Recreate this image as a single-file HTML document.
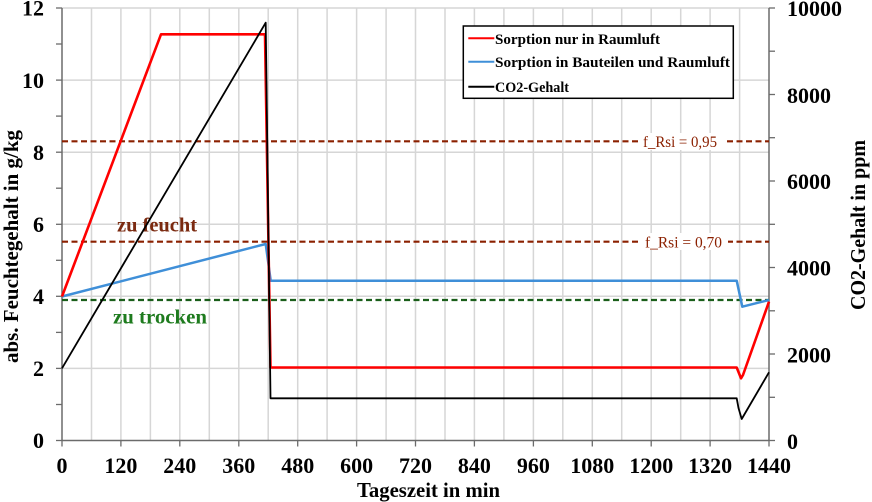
<!DOCTYPE html>
<html><head><meta charset="utf-8"><style>
html,body{margin:0;padding:0;background:#fff;}
svg{display:block;}
text{font-family:"Liberation Serif",serif;}
</style></head><body>
<svg width="872" height="502" viewBox="0 0 872 502" xmlns="http://www.w3.org/2000/svg">
<rect width="872" height="502" fill="#fff"/>
<!-- vertical gridlines every 60 min -->
<g stroke="#d6d6d6" stroke-width="1.5">
<line x1="91.5" y1="8" x2="91.5" y2="440.5"/><line x1="120.9" y1="8" x2="120.9" y2="440.5"/>
<line x1="150.4" y1="8" x2="150.4" y2="440.5"/><line x1="179.8" y1="8" x2="179.8" y2="440.5"/>
<line x1="209.3" y1="8" x2="209.3" y2="440.5"/><line x1="238.8" y1="8" x2="238.8" y2="440.5"/>
<line x1="268.2" y1="8" x2="268.2" y2="440.5"/><line x1="297.7" y1="8" x2="297.7" y2="440.5"/>
<line x1="327.1" y1="8" x2="327.1" y2="440.5"/><line x1="356.6" y1="8" x2="356.6" y2="440.5"/>
<line x1="386.1" y1="8" x2="386.1" y2="440.5"/><line x1="415.5" y1="8" x2="415.5" y2="440.5"/>
<line x1="445.0" y1="8" x2="445.0" y2="440.5"/><line x1="474.4" y1="8" x2="474.4" y2="440.5"/>
<line x1="503.9" y1="8" x2="503.9" y2="440.5"/><line x1="533.4" y1="8" x2="533.4" y2="440.5"/>
<line x1="562.8" y1="8" x2="562.8" y2="440.5"/><line x1="592.3" y1="8" x2="592.3" y2="440.5"/>
<line x1="621.7" y1="8" x2="621.7" y2="440.5"/><line x1="651.2" y1="8" x2="651.2" y2="440.5"/>
<line x1="680.7" y1="8" x2="680.7" y2="440.5"/><line x1="710.1" y1="8" x2="710.1" y2="440.5"/>
<line x1="739.6" y1="8" x2="739.6" y2="440.5"/>
</g>
<!-- horizontal gridlines -->
<g stroke="#d6d6d6" stroke-width="1.5">
<line x1="62" y1="8" x2="769" y2="8"/>
<line x1="62" y1="80.1" x2="769" y2="80.1"/>
<line x1="62" y1="152.2" x2="769" y2="152.2"/>
<line x1="62" y1="224.3" x2="769" y2="224.3"/>
<line x1="62" y1="296.3" x2="769" y2="296.3"/>
<line x1="62" y1="368.4" x2="769" y2="368.4"/>
</g>
<!-- axes -->
<g stroke="#6b6b6b" stroke-width="1.5">
<line x1="62" y1="8" x2="62" y2="440.5"/>
<line x1="769" y1="8" x2="769" y2="440.5"/>
<line x1="62" y1="440.5" x2="769" y2="440.5"/>
</g>
<!-- left ticks -->
<g stroke="#6b6b6b" stroke-width="1.3">
<line x1="56" y1="8" x2="62" y2="8"/><line x1="56" y1="44" x2="62" y2="44"/>
<line x1="56" y1="80.1" x2="62" y2="80.1"/><line x1="56" y1="116.1" x2="62" y2="116.1"/>
<line x1="56" y1="152.2" x2="62" y2="152.2"/><line x1="56" y1="188.2" x2="62" y2="188.2"/>
<line x1="56" y1="224.3" x2="62" y2="224.3"/><line x1="56" y1="260.3" x2="62" y2="260.3"/>
<line x1="56" y1="296.3" x2="62" y2="296.3"/><line x1="56" y1="332.4" x2="62" y2="332.4"/>
<line x1="56" y1="368.4" x2="62" y2="368.4"/><line x1="56" y1="404.5" x2="62" y2="404.5"/>
<line x1="56" y1="440.5" x2="62" y2="440.5"/>
</g>
<!-- right ticks -->
<g stroke="#6b6b6b" stroke-width="1.3">
<line x1="769" y1="8" x2="775" y2="8"/><line x1="769" y1="51.2" x2="775" y2="51.2"/>
<line x1="769" y1="94.5" x2="775" y2="94.5"/><line x1="769" y1="137.7" x2="775" y2="137.7"/>
<line x1="769" y1="181" x2="775" y2="181"/><line x1="769" y1="224.3" x2="775" y2="224.3"/>
<line x1="769" y1="267.5" x2="775" y2="267.5"/><line x1="769" y1="310.8" x2="775" y2="310.8"/>
<line x1="769" y1="354" x2="775" y2="354"/><line x1="769" y1="397.3" x2="775" y2="397.3"/>
<line x1="769" y1="440.5" x2="775" y2="440.5"/>
</g>
<!-- bottom ticks -->
<g stroke="#6b6b6b" stroke-width="1.3">
<line x1="62" y1="440.5" x2="62" y2="446.5"/><line x1="120.9" y1="440.5" x2="120.9" y2="446.5"/>
<line x1="179.8" y1="440.5" x2="179.8" y2="446.5"/><line x1="238.8" y1="440.5" x2="238.8" y2="446.5"/>
<line x1="297.7" y1="440.5" x2="297.7" y2="446.5"/><line x1="356.6" y1="440.5" x2="356.6" y2="446.5"/>
<line x1="415.5" y1="440.5" x2="415.5" y2="446.5"/><line x1="474.4" y1="440.5" x2="474.4" y2="446.5"/>
<line x1="533.4" y1="440.5" x2="533.4" y2="446.5"/><line x1="592.3" y1="440.5" x2="592.3" y2="446.5"/>
<line x1="651.2" y1="440.5" x2="651.2" y2="446.5"/><line x1="710.1" y1="440.5" x2="710.1" y2="446.5"/>
<line x1="769" y1="440.5" x2="769" y2="446.5"/>
</g>
<!-- threshold dashed lines -->
<line x1="62" y1="141.3" x2="769" y2="141.3" stroke="#8b2000" stroke-width="2.2" stroke-dasharray="6,3.5"/>
<line x1="62" y1="241.7" x2="769" y2="241.7" stroke="#8b2000" stroke-width="2.2" stroke-dasharray="6,3.5"/>
<line x1="62" y1="300" x2="769" y2="300" stroke="#1a5e1a" stroke-width="2.2" stroke-dasharray="6,3.5"/>
<rect x="638" y="133" width="86" height="17" fill="#fff"/>
<rect x="640" y="233" width="88" height="17" fill="#fff"/>
<text x="643" y="147" font-size="16" fill="#8b2000" textLength="74" lengthAdjust="spacingAndGlyphs">f_Rsi = 0,95</text>
<text x="645" y="247.5" font-size="16" fill="#8b2000" textLength="77" lengthAdjust="spacingAndGlyphs">f_Rsi = 0,70</text>
<text x="117" y="231.5" font-size="20" font-weight="bold" fill="#7b2a10" textLength="80" lengthAdjust="spacingAndGlyphs">zu feucht</text>
<text x="113" y="323.5" font-size="20" font-weight="bold" fill="#1e7b1e" textLength="94" lengthAdjust="spacingAndGlyphs">zu trocken</text>
<!-- series -->
<polyline fill="none" stroke="#3f8fd8" stroke-width="2.5" stroke-linejoin="round" points="62,296.5 265.7,244 270.7,280.7 736.7,280.7 742.3,306.7 769,300"/>
<polyline fill="none" stroke="#ff0000" stroke-width="2.6" stroke-linejoin="round" points="62,296.5 161,34.3 265,34.3 270.5,367.5 736.7,367.5 738.5,372 741,378.3 743,375 769,301.7"/>
<polyline fill="none" stroke="#000" stroke-width="1.8" stroke-linejoin="round" points="62,368.3 265.7,22.7 270.5,398.3 736.7,398.3 738.5,408 741.7,419 769,372.3"/>
<!-- legend -->
<rect x="463.3" y="26" width="270" height="72.3" fill="#fff" stroke="#000" stroke-width="1.5"/>
<line x1="468.3" y1="38.3" x2="494.3" y2="38.3" stroke="#ff0000" stroke-width="2"/>
<line x1="468.3" y1="61.7" x2="494.3" y2="61.7" stroke="#3f8fd8" stroke-width="2"/>
<line x1="468.3" y1="86.7" x2="494.3" y2="86.7" stroke="#000" stroke-width="2"/>
<text x="495" y="43.8" font-size="15" font-weight="bold" fill="#000" textLength="165" lengthAdjust="spacingAndGlyphs">Sorption nur in Raumluft</text>
<text x="495" y="67.2" font-size="15" font-weight="bold" fill="#000" textLength="235" lengthAdjust="spacingAndGlyphs">Sorption in Bauteilen und Raumluft</text>
<text x="495" y="92.2" font-size="15" font-weight="bold" fill="#000" textLength="74" lengthAdjust="spacingAndGlyphs">CO2-Gehalt</text>
<!-- left tick labels -->
<g font-size="22" font-weight="bold" fill="#000" text-anchor="end">
<text x="44" y="15.5">12</text>
<text x="44" y="88">10</text>
<text x="44" y="160">8</text>
<text x="44" y="232">6</text>
<text x="44" y="304">4</text>
<text x="44" y="376">2</text>
<text x="44" y="448">0</text>
</g>
<!-- right tick labels -->
<g font-size="22" font-weight="bold" fill="#000">
<text x="787" y="16">10000</text>
<text x="787" y="103">8000</text>
<text x="787" y="189">6000</text>
<text x="787" y="275.5">4000</text>
<text x="787" y="362.5">2000</text>
<text x="787" y="449">0</text>
</g>
<!-- bottom tick labels -->
<g font-size="22" font-weight="bold" fill="#000" text-anchor="middle">
<text x="62" y="473">0</text>
<text x="120.9" y="473">120</text>
<text x="179.8" y="473">240</text>
<text x="238.8" y="473">360</text>
<text x="297.7" y="473">480</text>
<text x="356.6" y="473">600</text>
<text x="415.5" y="473">720</text>
<text x="474.4" y="473">840</text>
<text x="533.4" y="473">960</text>
<text x="592.3" y="473">1080</text>
<text x="651.2" y="473">1200</text>
<text x="710.1" y="473">1320</text>
<text x="769" y="473">1440</text>
</g>
<!-- axis titles -->
<text x="357" y="497" font-size="21" font-weight="bold" fill="#000" textLength="143" lengthAdjust="spacingAndGlyphs">Tageszeit in min</text>
<text transform="translate(18,363) rotate(-90)" font-size="21" font-weight="bold" fill="#000" textLength="233" lengthAdjust="spacingAndGlyphs">abs. Feuchtegehalt in g/kg</text>
<text transform="translate(865,310) rotate(-90)" font-size="21" font-weight="bold" fill="#000" textLength="170" lengthAdjust="spacingAndGlyphs">CO2-Gehalt in ppm</text>
</svg>
</body></html>
